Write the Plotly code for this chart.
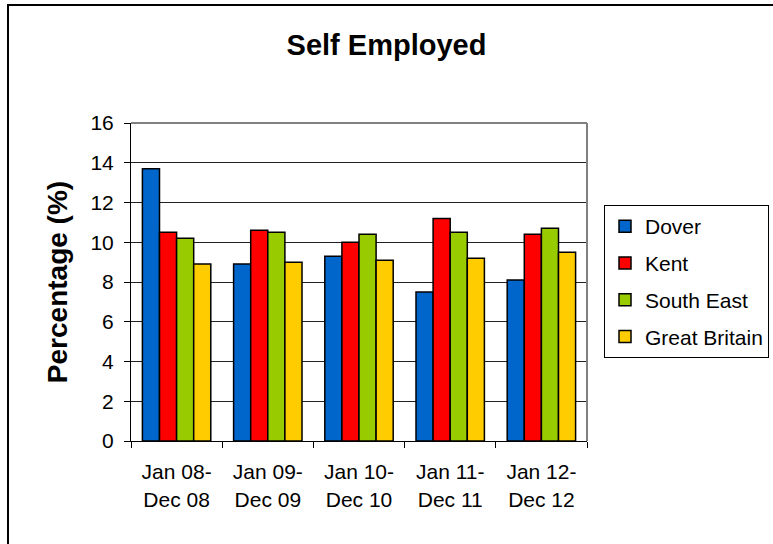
import plotly.graph_objects as go

# Survey periods and self-employment rates (%) by area
periods = ["Jan 08-<br>Dec 08", "Jan 09-<br>Dec 09", "Jan 10-<br>Dec 10",
           "Jan 11-<br>Dec 11", "Jan 12-<br>Dec 12"]
dover = [13.7, 8.9, 9.3, 7.5, 8.1]
kent = [10.5, 10.6, 10.0, 11.2, 10.4]
south_east = [10.2, 10.5, 10.4, 10.5, 10.7]
great_britain = [8.9, 9.0, 9.1, 9.2, 9.5]

series = [
    ("Dover", dover, "#0066CC"),
    ("Kent", kent, "#FF0000"),
    ("South East", south_east, "#99CC00"),
    ("Great Britain", great_britain, "#FFCC00"),
]

y_ticks = [0, 2, 4, 6, 8, 10, 12, 14, 16]

FONT = "Liberation Sans, Arial, sans-serif"

fig = go.Figure()
for i, (name, vals, color) in enumerate(series):
    fig.add_trace(go.Bar(
        x=periods, y=vals, name=name, legendgroup=f"g{i}",
        marker=dict(color=color, line=dict(color="black", width=1.5)),
    ))

L, R, T, B = 131, 186, 123, 103
W, H = 773, 544
pw, ph = W - L - R, H - T - B

def px_x(x):
    return (x - L) / pw

def px_y(y):
    return (H - B - y) / ph

fig.update_layout(
    width=W, height=H,
    margin=dict(l=L, r=R, t=T, b=B, autoexpand=False),
    paper_bgcolor="white", plot_bgcolor="white",
    barmode="group", bargap=0.25, bargroupgap=0,
    font=dict(family=FONT, size=21, color="black"),
    title=dict(text="<b>Self Employed</b>", x=0.5, xanchor="center",
               y=1 - 45 / H, yanchor="middle",
               xref="container", font=dict(size=29, family=FONT)),
    showlegend=True,
    legend=dict(
        x=px_x(604), y=px_y(205), xanchor="left", yanchor="top",
        bordercolor="black", borderwidth=1, bgcolor="white",
        font=dict(size=21, family=FONT), tracegroupgap=6.5,
        itemwidth=30,
    ),
    xaxis=dict(
        type="category", tickson="boundaries", ticks="outside", ticklen=6,
        tickcolor="black", showline=True, linecolor="black", linewidth=1,
        showgrid=False, tickfont=dict(size=21), ticklabelstandoff=12,
    ),
    yaxis=dict(
        range=[0, 16], tickvals=y_ticks, ticks="outside", ticklen=6,
        tickcolor="black", showline=True, linecolor="black", linewidth=1,
        showgrid=True, gridcolor="#222222", gridwidth=1, zeroline=False,
        tickfont=dict(size=21), ticklabelstandoff=6,
        title=dict(text="<b>Percentage (%)</b>", font=dict(size=28), standoff=14),
    ),
    shapes=[
        # grey frame on the top and right of the plotting area
        dict(type="line", xref="paper", yref="paper", x0=0, x1=1, y0=1, y1=1,
             line=dict(color="#808080", width=2)),
        dict(type="line", xref="paper", yref="paper", x0=1, x1=1, y0=0, y1=1,
             line=dict(color="#808080", width=2)),
        # outer chart border
        dict(type="rect", xref="paper", yref="paper",
             x0=px_x(8), x1=px_x(800), y0=px_y(5), y1=px_y(570),
             line=dict(color="black", width=2), layer="below"),
    ],
)

fig.write_html("out.html")
